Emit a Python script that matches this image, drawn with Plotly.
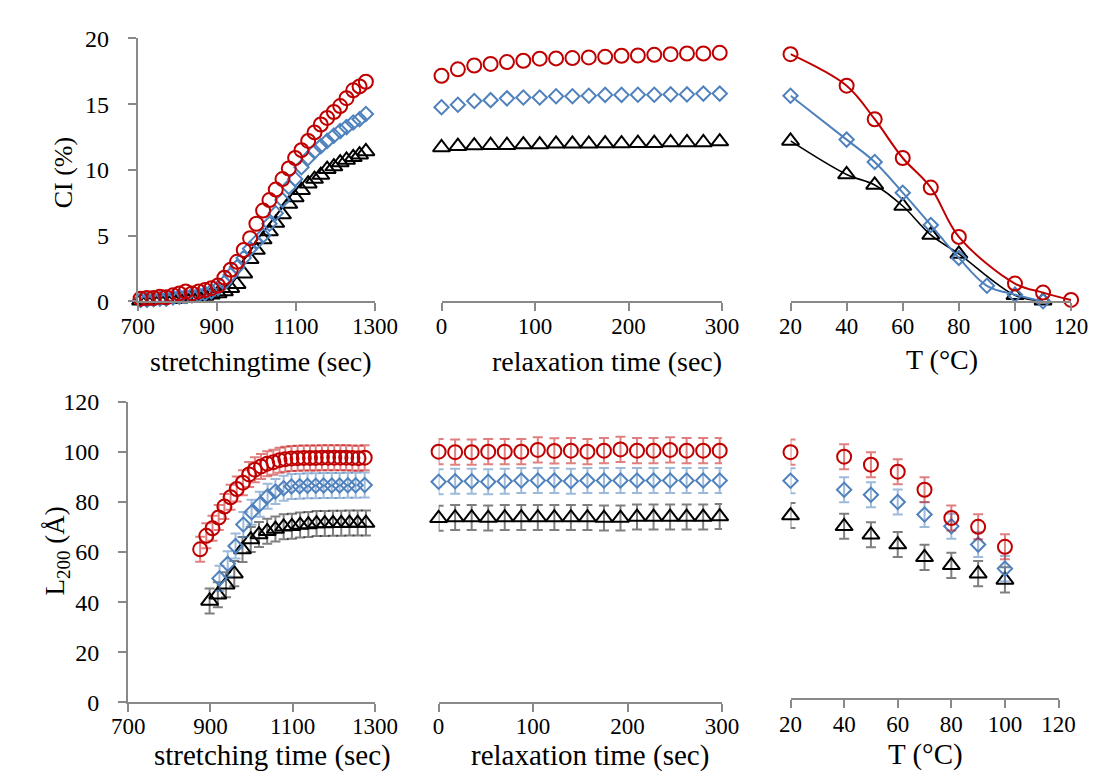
import plotly.graph_objects as go

# ---------------- data ----------------
# top-left: CI vs stretching time
str_t = [707, 723, 740, 756, 772, 789, 805, 821, 837, 854, 870, 886, 903, 919, 935, 951, 968, 984,
         1000, 1017, 1033, 1049, 1066, 1082, 1098, 1114, 1131, 1147, 1163, 1179, 1196, 1212, 1228, 1245, 1261, 1277]
ci_str_red = [0.2, 0.25, 0.25, 0.35, 0.3, 0.45, 0.6, 0.75, 0.6, 0.75, 0.85, 1.0, 1.2, 1.8, 2.4, 3.0, 3.9, 4.8,
              5.9, 6.9, 7.7, 8.5, 9.3, 10.1, 10.9, 11.5, 12.2, 12.85, 13.45, 13.95, 14.4, 14.85, 15.45, 16.05, 16.35, 16.7]
ci_str_blue = [0.1, 0.1, 0.15, 0.2, 0.2, 0.3, 0.35, 0.4, 0.45, 0.5, 0.6, 0.75, 1.0, 1.4, 2.0, 2.6, 3.3, 4.0,
               4.5, 5.0, 5.9, 6.7, 7.7, 8.7, 9.3, 10.2, 10.9, 11.4, 11.8, 12.2, 12.6, 12.95, 13.25, 13.6, 13.85, 14.25]
ci_str_black = [0.05, 0.05, 0.1, 0.1, 0.15, 0.15, 0.2, 0.25, 0.3, 0.35, 0.4, 0.5, 0.6, 0.75, 1.0, 1.3, 2.1, 3.2,
                3.9, 4.7, 5.3, 5.95, 6.6, 7.4, 7.9, 8.45, 8.95, 9.3, 9.6, 10.05, 10.25, 10.55, 10.75, 10.95, 11.15, 11.4]

# top-middle: CI vs relaxation time
rel_t = [0, 17.5, 35, 52.5, 70, 87.5, 105, 122.5, 140, 157.5, 175, 192.5, 210, 227.5, 245, 262.5, 280, 297.5]
ci_rel_red = [17.15, 17.65, 17.94, 18.06, 18.2, 18.3, 18.46, 18.48, 18.5, 18.55, 18.6, 18.68, 18.7, 18.75, 18.8, 18.85, 18.85, 18.9]
ci_rel_blue = [14.76, 14.95, 15.24, 15.3, 15.44, 15.5, 15.5, 15.6, 15.6, 15.64, 15.7, 15.7, 15.71, 15.71, 15.74, 15.74, 15.8, 15.8]
ci_rel_black = [11.7, 11.8, 11.85, 11.87, 11.87, 11.92, 11.92, 11.98, 11.98, 11.98, 12.0, 12.0, 12.03, 12.03, 12.08, 12.08, 12.08, 12.15]

# top-right: CI vs temperature
T_red = [20, 40, 50, 60, 70, 80, 100, 110, 120]
ci_T_red = [18.8, 16.4, 13.85, 10.9, 8.65, 4.9, 1.35, 0.66, 0.1]
T_blue = [20, 40, 50, 60, 70, 80, 90, 100, 110]
ci_T_blue = [15.64, 12.3, 10.6, 8.26, 5.8, 3.3, 1.18, 0.5, 0.0]
T_black = [20, 40, 50, 60, 70, 80, 100, 110]
ci_T_black = [12.2, 9.65, 8.85, 7.25, 5.05, 3.6, 0.45, 0.05]

# bottom-left: L200 vs stretching time
L_str_t_red = [875, 890, 905, 920, 934, 949, 964, 979, 994, 1008, 1023, 1038, 1053, 1068,
               1082, 1097, 1112, 1127, 1142, 1156, 1171, 1186, 1201, 1216, 1230, 1245, 1260, 1275]
L_str_red = [61.1, 66.5, 69.5, 73.8, 78.2, 81.9, 85.2, 87.7, 91.0, 92.9, 94.2, 95.3, 95.9, 96.7,
             97.1, 97.4, 97.5, 97.6, 97.6, 97.6, 97.7, 97.7, 97.7, 97.7, 97.7, 97.6, 97.5, 97.7]
L_str_t_blue = [922, 942, 961, 980, 1000, 1020, 1039, 1058, 1078, 1097, 1117, 1136, 1156, 1175,
                1195, 1214, 1234, 1253, 1275]
L_str_blue = [49.5, 55.3, 62.4, 71.0, 75.9, 79.1, 82.3, 84.2, 85.5, 86.2, 86.3, 86.5, 86.5, 86.6,
              86.6, 86.6, 86.7, 86.7, 86.8]
L_str_t_black = [898, 918, 938, 958, 978, 998, 1018, 1038, 1058, 1078, 1098, 1118, 1138, 1158,
                 1178, 1198, 1218, 1238, 1258, 1278]
L_str_black = [40.5, 43.0, 47.0, 51.4, 61.0, 65.0, 67.0, 68.3, 69.2, 70.1, 70.3, 70.8, 71.0, 71.4,
               71.4, 71.5, 71.5, 71.6, 71.6, 71.6]

# bottom-middle: L200 vs relaxation time
L_rel_red = [100.1, 99.9, 99.9, 100.1, 100.1, 100.1, 100.8, 100.4, 100.5, 100.1, 100.5, 101.0, 100.5, 100.5, 100.8, 100.5, 100.5, 100.5]
L_rel_blue = [88.1, 88.3, 88.3, 88.1, 88.3, 88.6, 88.6, 88.6, 88.3, 88.6, 88.6, 88.6, 88.6, 88.6, 88.6, 88.6, 88.6, 88.6]
L_rel_black = [73.5, 73.8, 73.8, 73.6, 73.8, 73.8, 73.8, 73.8, 73.8, 73.8, 73.6, 73.6, 74.0, 74.0, 74.0, 74.0, 74.0, 74.2]

# bottom-right: L200 vs temperature
L_T = [20, 40, 50, 60, 70, 80, 90, 100]
L_T_red = [99.9, 98.1, 94.9, 92.1, 84.9, 73.6, 70.1, 62.1]
L_T_blue = [88.5, 84.9, 82.9, 80.0, 75.0, 70.3, 63.0, 53.4]
L_T_black = [74.6, 70.3, 66.9, 63.0, 57.9, 54.7, 51.4, 48.9]

L200_err = 5.0

# ---------------- styling ----------------
RED, BLUE, BLACK = "#C00000", "#4F81BD", "#000000"
ERR = {RED: "rgba(192,0,0,0.5)", BLUE: "rgba(79,129,189,0.55)", BLACK: "rgba(0,0,0,0.5)"}
SYM = {RED: ("circle-open", 14), BLUE: ("diamond-open", 11), BLACK: ("triangle-up-open", 15)}
FONT = "Liberation Serif, Times New Roman, serif"
AX = "#898989"
W, H = 1115, 776

fig = go.Figure()


def add(x, y, color, ax, line=False, err=False):
    sym, size = SYM[color]
    kw = dict(x=x, y=y, xaxis="x" + ax, yaxis="y" + ax, showlegend=False, cliponaxis=False,
              mode="lines+markers" if line else "markers",
              marker=dict(symbol=sym, size=size, color=color, line=dict(color=color, width=2)))
    if line:
        kw["line"] = dict(color=color, width=2 if color != BLACK else 1.6, shape="spline", smoothing=1.0)
    if err:
        kw["error_y"] = dict(type="constant", value=L200_err, color=ERR[color], thickness=2, width=5)
    fig.add_trace(go.Scatter(**kw))


add(str_t, ci_str_black, BLACK, "")
add(str_t, ci_str_blue, BLUE, "")
add(str_t, ci_str_red, RED, "")

add(rel_t, ci_rel_black, BLACK, "2")
add(rel_t, ci_rel_blue, BLUE, "2")
add(rel_t, ci_rel_red, RED, "2")

add(T_black, ci_T_black, BLACK, "3", line=True)
add(T_blue, ci_T_blue, BLUE, "3", line=True)
add(T_red, ci_T_red, RED, "3", line=True)

add(L_str_t_black, L_str_black, BLACK, "4", err=True)
add(L_str_t_blue, L_str_blue, BLUE, "4", err=True)
add(L_str_t_red, L_str_red, RED, "4", err=True)

add(rel_t, L_rel_black, BLACK, "5", err=True)
add(rel_t, L_rel_blue, BLUE, "5", err=True)
add(rel_t, L_rel_red, RED, "5", err=True)

add(L_T, L_T_black, BLACK, "6", err=True)
add(L_T, L_T_blue, BLUE, "6", err=True)
add(L_T, L_T_red, RED, "6", err=True)


def fx(a, b):
    return [a / W, b / W]


def fy(top, bottom):
    return [1 - bottom / H, 1 - top / H]


def xax(dom, rng, dtick, anchor, size, standoff):
    return dict(domain=dom, range=rng, dtick=dtick, tick0=rng[0] if dtick != 100 else 0, anchor=anchor,
                showline=True, linecolor=AX, linewidth=2, ticks="outside", ticklen=8, tickcolor=AX,
                tickwidth=2, showgrid=False, zeroline=False, ticklabelstandoff=standoff,
                tickfont=dict(family=FONT, size=size, color="#000"), fixedrange=True)


def yax(dom, rng, anchor, show=False, dtick=None, size=23, standoff=8):
    d = dict(domain=dom, range=rng, anchor=anchor, showgrid=False, zeroline=False, fixedrange=True)
    if show:
        d.update(showline=True, linecolor=AX, linewidth=2, ticks="outside", ticklen=8, tickcolor=AX,
                 tickwidth=2, dtick=dtick, ticklabelstandoff=standoff,
                 tickfont=dict(family=FONT, size=size, color="#000"))
    else:
        d.update(showline=False, showticklabels=False, ticks="")
    return d


top = fy(18, 290)
bot = fy(394, 705)
bot_r = fy(394, 700)

fig.update_layout(
    width=W, height=H, margin=dict(l=0, r=0, t=0, b=0),
    paper_bgcolor="white", plot_bgcolor="rgba(0,0,0,0)",
    xaxis=xax(fx(117, 363), [700, 1300], 200, "y", 23, -5),
    yaxis=yax(top, [0, 20], "x", True, 5, 24, 14),
    xaxis2=xax(fx(432, 723), [0, 300], 100, "y2", 23, -5),
    yaxis2=yax(top, [0, 20], "x2"),
    xaxis3=xax(fx(794, 1085), [20, 120], 20, "y3", 23, -5),
    yaxis3=yax(top, [0, 20], "x3"),
    xaxis4=xax(fx(107, 363), [700, 1300], 200, "y4", 23, -6),
    yaxis4=yax(bot, [0, 120], "x4", True, 20, 24, 14),
    xaxis5=xax(fx(429, 723), [0, 300], 100, "y5", 23, -6),
    yaxis5=yax(bot, [0, 120], "x5"),
    xaxis6=xax(fx(794, 1072), [20, 120], 20, "y6", 23, -3),
    yaxis6=yax(bot_r, [1.93, 120], "x6"),
)


def label(text, x, y, size, angle=0):
    fig.add_annotation(text=text, x=x / W, y=1 - y / H, xref="paper", yref="paper",
                       showarrow=False, textangle=angle, xanchor="center", yanchor="middle",
                       font=dict(family=FONT, size=size, color="#000"))


label("CI (%)", 40, 157, 26, -90)
label("stretchingtime (sec)", 245, 352, 28)
label("relaxation time (sec)", 604, 352, 28)
label("T (°C)", 951, 350, 28)
label("L<sub>200</sub> (Å)", 33, 548, 27, -90)
label("stretching time (sec)", 257, 760, 29)
label("relaxation time (sec)", 586, 760, 29)
label("T (°C)", 934, 759, 29)

fig.write_html("out.html")
